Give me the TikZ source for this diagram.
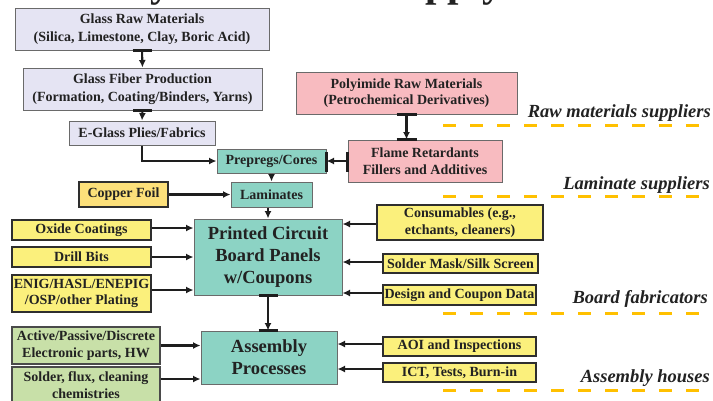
\documentclass[tikz,border=0pt]{standalone}
\usepackage{fontspec}
\setmainfont{Liberation Serif}
\usetikzlibrary{arrows.meta,calc}
\definecolor{lav}{HTML}{E5E4F3}
\definecolor{pinkc}{HTML}{F8BBC0}
\definecolor{teal1}{HTML}{8CD3C4}
\definecolor{ylw}{HTML}{FBF07C}
\definecolor{cuylw}{HTML}{FCE07A}
\definecolor{grn}{HTML}{C8E0A8}
\definecolor{boxgray}{HTML}{6A6A6A}
\definecolor{ylwedge}{HTML}{2E2E2E}
\definecolor{grnedge}{HTML}{4A4A4A}
\definecolor{txt}{HTML}{222222}
\definecolor{lineblk}{HTML}{1E1E1E}
\definecolor{dashorange}{HTML}{FFC000}
\begin{document}
\begin{tikzpicture}[x=1pt,y=-1pt,
  basebox/.style={draw=boxgray,line width=1pt,inner sep=0pt,align=center,
    font=\bfseries\fontsize{14}{16.5}\selectfont,text=txt},
  lavbox/.style={basebox,fill=lav,font=\bfseries\fontsize{14}{18}\selectfont},
  pinkbox/.style={basebox,fill=pinkc},
  tealbox/.style={basebox,fill=teal1},
  ylwbox/.style={basebox,fill=ylw,draw=ylwedge,line width=1.3pt},
  cubox/.style={basebox,fill=cuylw,draw=ylwedge,line width=1.3pt},
  grnbox/.style={basebox,fill=grn,draw=grnedge,line width=1.3pt},
  bigtext/.style={font=\bfseries\fontsize{18.5}{22}\selectfont},
  conn/.style={draw=lineblk,line width=2.1pt,-{Latex[length=7.5pt,width=7pt]}},
  barmark/.style={draw=lineblk,line width=2.8pt},
  tier/.style={font=\bfseries\itshape\fontsize{18.5}{20}\selectfont,text=txt,anchor=base east,inner sep=0pt},
  tierline/.style={draw=dashorange,line width=3pt,dash pattern=on 13pt off 14pt},
  ttl/.style={font=\bfseries\fontsize{41}{41}\selectfont,text=txt,anchor=base west,inner sep=0pt}]
\useasboundingbox (0,0) rectangle (713,400);
\fill[white] (0,0) rectangle (713,400);

% title fragments (cut off at the top)
\node[ttl] (ttla) at (150,-4) {y};
\node[ttl] (ttlb) at (425,-4) {pply};

% tier separators and labels
\coordinate (d1a) at (443,125); \coordinate (d1b) at (713,125);
\coordinate (d2a) at (443,196); \coordinate (d2b) at (713,196);
\coordinate (d3a) at (443,313); \coordinate (d3b) at (713,313);
\coordinate (d4a) at (443,390); \coordinate (d4b) at (713,390);
\draw[tierline] (d1a) -- (d1b);
\draw[tierline] (d2a) -- (d2b);
\draw[tierline] (d3a) -- (d3b);
\draw[tierline] (d4a) -- (d4b);
\node[tier] (t1) at (711,117) {Raw materials suppliers};
\node[tier] (t2) at (710,189) {Laminate suppliers};
\node[tier] (t3) at (708,303) {Board fabricators};
\node[tier] (t4) at (710,382) {Assembly houses};

% boxes
\node[lavbox,minimum width=254pt,minimum height=42pt] (glassraw) at (142,29)
  {Glass Raw Materials\\(Silica, Limestone, Clay, Boric Acid)};
\node[lavbox,minimum width=239pt,minimum height=42pt] (glassfib) at (142.5,89)
  {Glass Fiber Production\\(Formation, Coating/Binders, Yarns)};
\node[lavbox,minimum width=146pt,minimum height=24pt] (eglass) at (142,133)
  {E-Glass Plies/Fabrics};
\node[pinkbox,minimum width=221pt,minimum height=42pt] (poly) at (406.5,93)
  {Polyimide Raw Materials\\(Petrochemical Derivatives)};
\node[pinkbox,minimum width=154pt,minimum height=42pt] (flame) at (425,161)
  {Flame Retardants\\Fillers and Additives};
\node[tealbox,minimum width=109pt,minimum height=24pt] (prepreg) at (271.5,161)
  {Prepregs/Cores};
\node[tealbox,minimum width=81pt,minimum height=25pt] (lam) at (271.5,194.5)
  {Laminates};
\node[cubox,minimum width=89pt,minimum height=25pt] (copper) at (123.5,194.5)
  {Copper Foil};
\node[tealbox,bigtext,minimum width=148pt,minimum height=76pt] (pcb) at (268,257)
  {Printed Circuit\\Board Panels\\w/Coupons};
\node[ylwbox,minimum width=139pt,minimum height=20pt] (oxide) at (81.5,230)
  {Oxide Coatings};
\node[ylwbox,minimum width=139pt,minimum height=20pt] (drill) at (81.5,257)
  {Drill Bits};
\node[ylwbox,minimum width=139pt,minimum height=37pt] (enig) at (81.5,293.5)
  {ENIG/HASL/ENEPIG\\/OSP/other Plating};
\node[ylwbox,minimum width=166pt,minimum height=35pt] (consum) at (460,222.5)
  {Consumables (e.g.,\\etchants, cleaners)};
\node[ylwbox,minimum width=155pt,minimum height=19pt] (mask) at (460.5,263.5)
  {Solder Mask/Silk Screen};
\node[ylwbox,minimum width=153pt,minimum height=20pt] (design) at (459.5,295)
  {Design and Coupon Data};
\node[tealbox,bigtext,minimum width=136pt,minimum height=53pt] (assembly) at (269,357.5)
  {Assembly\\Processes};
\node[grnbox,minimum width=148pt,minimum height=37pt] (active) at (86,345.5)
  {Active/Passive/Discrete\\Electronic parts, HW};
\node[grnbox,minimum width=148pt,minimum height=36pt] (flux) at (86,385)
  {Solder, flux, cleaning\\chemistries};
\node[ylwbox,minimum width=153pt,minimum height=19pt] (aoi) at (459.5,346.5)
  {AOI and Inspections};
\node[ylwbox,minimum width=153pt,minimum height=19pt] (ict) at (459.5,372.5)
  {ICT, Tests, Burn-in};

% connectors
\draw[conn] (glassraw.south) -- (glassfib.north);
\draw[barmark] ([xshift=-9.5pt]glassraw.south) -- ([xshift=9.5pt]glassraw.south);
\draw[conn] (glassfib.south) -- (eglass.north);
\draw[barmark] ([xshift=-9.5pt]glassfib.south) -- ([xshift=9.5pt]glassfib.south);
\draw[conn] (eglass.south) |- (prepreg.west);
\draw[conn] (poly.south) -- (poly.south |- flame.north);
\draw[barmark] ([xshift=-10pt]poly.south) -- ([xshift=10pt]poly.south);
\draw[barmark] ([xshift=-10pt]poly.south |- flame.north) -- ([xshift=10pt]poly.south |- flame.north);
\draw[conn] (flame.west) -- (prepreg.east);
\draw[barmark] ([yshift=9pt]flame.west) -- ([yshift=-11pt]flame.west);
\draw[barmark] ([yshift=9pt]prepreg.east) -- ([yshift=-11pt]prepreg.east);
\draw[conn] (prepreg.south) -- (lam.north);
\draw[conn] (pcb.north |- lam.south) -- (pcb.north);
\draw[conn] (copper.east) -- (lam.west);
\draw[conn] ([yshift=2pt]oxide.east) -- ([yshift=2pt]oxide.east -| pcb.west);
\draw[conn] (drill.east) -- (drill.east -| pcb.west);
\draw[conn] ([yshift=3.5pt]enig.east) -- ([yshift=3.5pt]enig.east -| pcb.west);
\draw[conn] ([yshift=-1.5pt]consum.west) -- ([yshift=-1.5pt]consum.west -| pcb.east);
\draw[conn] ([yshift=1.5pt]mask.west) -- ([yshift=1.5pt]mask.west -| pcb.east);
\draw[conn] ([yshift=2pt]design.west) -- ([yshift=2pt]design.west -| pcb.east);
\draw[conn] (pcb.south) -- (pcb.south |- assembly.north);
\draw[barmark] ([xshift=-9.5pt]pcb.south) -- ([xshift=9.5pt]pcb.south);
\draw[barmark] ([xshift=-9.5pt]pcb.south |- assembly.north) -- ([xshift=9.5pt]pcb.south |- assembly.north);
\draw[conn] (active.east) -- (active.east -| assembly.west);
\draw[conn] ([yshift=6pt]flux.east) -- ([yshift=6pt]flux.east -| assembly.west);
\draw[conn] ([yshift=2.5pt]aoi.west) -- ([yshift=2.5pt]aoi.west -| assembly.east);
\draw[conn] ([yshift=3.5pt]ict.west) -- ([yshift=3.5pt]ict.west -| assembly.east);
\end{tikzpicture}
\end{document}
